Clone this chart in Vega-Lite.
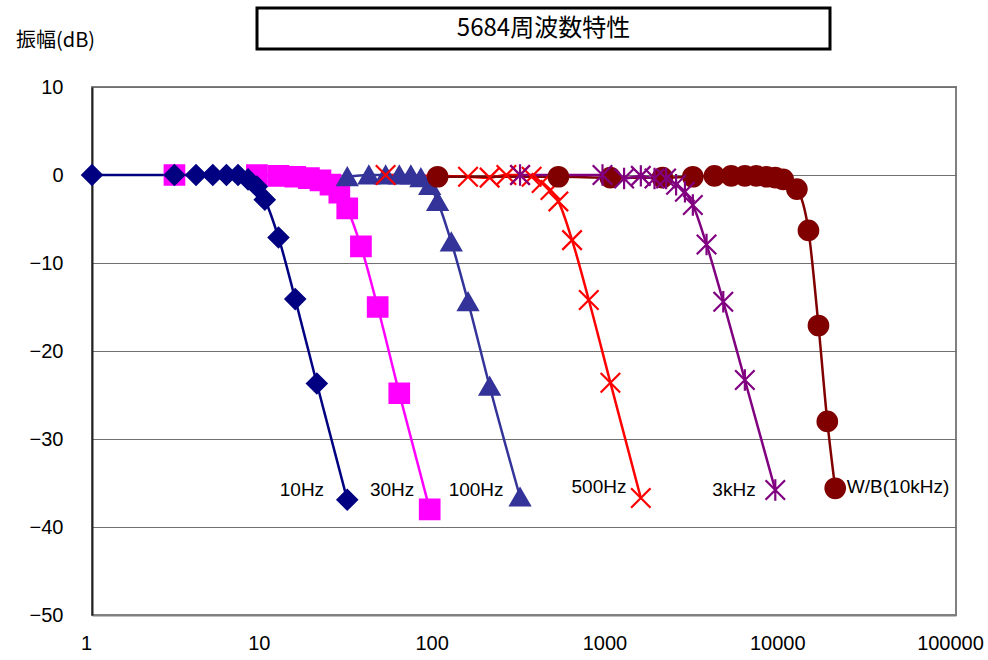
{
  "$schema": "https://vega.github.io/schema/vega-lite/v6.json",
  "background": "white",
  "padding": {"left": 14, "top": 6, "right": 5, "bottom": 5},
  "config": {"font": "Liberation Sans"},
  "datasets": {
    "pts": [
      {"s": "30Hz", "f": 3, "db": 0}, {"s": "30Hz", "f": 9, "db": 0}, {"s": "30Hz", "f": 12, "db": -0.1}, {"s": "30Hz", "f": 15, "db": -0.2}, {"s": "30Hz", "f": 18, "db": -0.35}, {"s": "30Hz", "f": 21, "db": -0.6}, {"s": "30Hz", "f": 24, "db": -1.1}, {"s": "30Hz", "f": 27, "db": -2.0}, {"s": "30Hz", "f": 30, "db": -3.8}, {"s": "30Hz", "f": 36, "db": -8.1}, {"s": "30Hz", "f": 45, "db": -15.0}, {"s": "30Hz", "f": 60, "db": -24.8}, {"s": "30Hz", "f": 90, "db": -38.0},
      {"s": "10Hz", "f": 1, "db": 0}, {"s": "10Hz", "f": 3, "db": 0}, {"s": "10Hz", "f": 4, "db": 0}, {"s": "10Hz", "f": 5, "db": 0}, {"s": "10Hz", "f": 6, "db": 0}, {"s": "10Hz", "f": 7, "db": 0}, {"s": "10Hz", "f": 8, "db": -0.5}, {"s": "10Hz", "f": 9, "db": -1.3}, {"s": "10Hz", "f": 10, "db": -2.8}, {"s": "10Hz", "f": 12, "db": -7.1}, {"s": "10Hz", "f": 15, "db": -14.1}, {"s": "10Hz", "f": 20, "db": -23.7}, {"s": "10Hz", "f": 30, "db": -36.9},
      {"s": "100Hz", "f": 30, "db": -0.2}, {"s": "100Hz", "f": 40, "db": 0}, {"s": "100Hz", "f": 50, "db": 0}, {"s": "100Hz", "f": 60, "db": 0}, {"s": "100Hz", "f": 70, "db": 0}, {"s": "100Hz", "f": 80, "db": -0.3}, {"s": "100Hz", "f": 90, "db": -1.2}, {"s": "100Hz", "f": 100, "db": -3.0}, {"s": "100Hz", "f": 120, "db": -7.6}, {"s": "100Hz", "f": 150, "db": -14.4}, {"s": "100Hz", "f": 200, "db": -24.0}, {"s": "100Hz", "f": 300, "db": -36.6},
      {"s": "500Hz", "f": 50, "db": 0}, {"s": "500Hz", "f": 150, "db": -0.2}, {"s": "500Hz", "f": 200, "db": -0.3}, {"s": "500Hz", "f": 250, "db": 0}, {"s": "500Hz", "f": 300, "db": 0}, {"s": "500Hz", "f": 350, "db": -0.2}, {"s": "500Hz", "f": 400, "db": -0.9}, {"s": "500Hz", "f": 450, "db": -1.7}, {"s": "500Hz", "f": 500, "db": -3.0}, {"s": "500Hz", "f": 600, "db": -7.4}, {"s": "500Hz", "f": 750, "db": -14.2}, {"s": "500Hz", "f": 1000, "db": -23.6}, {"s": "500Hz", "f": 1500, "db": -36.7},
      {"s": "WB", "f": 100, "db": -0.2}, {"s": "WB", "f": 500, "db": -0.2}, {"s": "WB", "f": 1000, "db": -0.3}, {"s": "WB", "f": 2000, "db": -0.3}, {"s": "WB", "f": 3000, "db": -0.2}, {"s": "WB", "f": 4000, "db": -0.1}, {"s": "WB", "f": 5000, "db": -0.1}, {"s": "WB", "f": 6000, "db": -0.1}, {"s": "WB", "f": 7000, "db": -0.1}, {"s": "WB", "f": 8000, "db": -0.2}, {"s": "WB", "f": 9000, "db": -0.3}, {"s": "WB", "f": 10000, "db": -0.5}, {"s": "WB", "f": 12000, "db": -1.6}, {"s": "WB", "f": 14000, "db": -6.3}, {"s": "WB", "f": 16000, "db": -17.1}, {"s": "WB", "f": 18000, "db": -28.0}, {"s": "WB", "f": 20000, "db": -35.6},
      {"s": "3kHz", "f": 300, "db": 0}, {"s": "3kHz", "f": 900, "db": 0}, {"s": "3kHz", "f": 1200, "db": -0.4}, {"s": "3kHz", "f": 1500, "db": -0.1}, {"s": "3kHz", "f": 1800, "db": -0.4}, {"s": "3kHz", "f": 2100, "db": -0.4}, {"s": "3kHz", "f": 2400, "db": -1.1}, {"s": "3kHz", "f": 2700, "db": -1.9}, {"s": "3kHz", "f": 3000, "db": -3.4}, {"s": "3kHz", "f": 3600, "db": -7.9}, {"s": "3kHz", "f": 4500, "db": -14.4}, {"s": "3kHz", "f": 6000, "db": -23.3}, {"s": "3kHz", "f": 9000, "db": -35.8}
    ],
    "labels": [
      {"t": "10Hz", "f": 16.4, "db": -35.8},
      {"t": "30Hz", "f": 54.5, "db": -35.8},
      {"t": "100Hz", "f": 167, "db": -35.8},
      {"t": "500Hz", "f": 859, "db": -35.4},
      {"t": "3kHz", "f": 5190, "db": -35.8},
      {"t": "W/B(10kHz)", "f": 46200, "db": -35.5}
    ],
    "title": [{"t": "5684周波数特性"}],
    "blank": [{"t": ""}]
  },
  "bounds": "flush",
  "spacing": 79,
  "vconcat": [
    {
      "bounds": "flush",
      "spacing": 0,
      "hconcat": [
        {
          "width": 165, "height": 41,
          "data": {"name": "blank"},
          "mark": {"type": "text"},
          "encoding": {"text": {"field": "t"}},
          "view": {"stroke": null}
        },
        {
          "width": 573, "height": 41,
          "data": {"name": "title"},
          "mark": {"type": "text", "font": "Noto Sans CJK JP", "fontSize": 24, "color": "black", "baseline": "middle", "align": "center"},
          "encoding": {"text": {"field": "t"}},
          "view": {"stroke": "black", "strokeWidth": 3}
        }
      ]
    },
    {
      "width": 864,
      "height": 528,
      "view": {"stroke": "#808080", "strokeWidth": 2},
      "encoding": {
        "x": {
          "field": "f", "type": "quantitative",
          "scale": {"type": "log", "domain": [1, 100000], "nice": false},
          "axis": {
            "title": null, "values": [1, 10, 100, 1000, 10000, 100000], "format": "d",
            "grid": false, "ticks": false, "labelFontSize": 20, "labelColor": "black",
            "labelPadding": 18, "labelOffset": -6, "labelFlush": false,
            "domainColor": "#808080", "domainWidth": 2
          }
        },
        "y": {
          "field": "db", "type": "quantitative",
          "scale": {"domain": [-50, 10], "nice": false, "zero": false},
          "axis": {
            "values": [-50, -40, -30, -20, -10, 0, 10],
            "grid": true, "gridColor": "#707070", "gridWidth": 1,
            "ticks": false, "labelFontSize": 20, "labelColor": "black", "labelPadding": 29,
            "domainColor": "#222222", "domainWidth": 2,
            "title": "振幅(dB)", "titleAngle": 0, "titleX": -37, "titleY": -47,
            "titleAlign": "center", "titleBaseline": "middle",
            "titleFont": "Noto Sans CJK JP", "titleFontSize": 20, "titleFontWeight": "normal", "titleColor": "black"
          }
        }
      },
      "layer": [
        {
          "data": {"name": "pts"},
          "mark": {"type": "line", "interpolate": "monotone", "strokeWidth": 2.5},
          "encoding": {
            "color": {
              "field": "s", "type": "nominal", "legend": null,
              "scale": {"domain": ["10Hz", "30Hz", "100Hz", "500Hz", "3kHz", "WB"], "range": ["#000080", "#FF00FF", "#333399", "#FF0000", "#800080", "#800000"]}
            },
            "order": {"field": "f", "type": "quantitative"}
          }
        },
        {
          "data": {"name": "pts"},
          "mark": {"type": "point", "opacity": 1, "strokeWidth": 2.2},
          "encoding": {
            "fill": {
              "field": "s", "type": "nominal", "legend": null,
              "scale": {"domain": ["10Hz", "30Hz", "100Hz", "500Hz", "3kHz", "WB"], "range": ["#000080", "#FF00FF", "#333399", "#FF0000", "#800080", "#800000"]}
            },
            "stroke": {
              "field": "s", "type": "nominal", "legend": null,
              "scale": {"domain": ["10Hz", "30Hz", "100Hz", "500Hz", "3kHz", "WB"], "range": ["#000080", "#FF00FF", "#333399", "#FF0000", "#800080", "#800000"]}
            },
            "shape": {
              "field": "s", "type": "nominal", "legend": null,
              "scale": {"domain": ["10Hz", "30Hz", "100Hz", "500Hz", "3kHz", "WB"], "range": ["diamond", "square", "triangle-up", "M-1,-1L1,1M-1,1L1,-1", "M-1,-1L1,1M-1,1L1,-1M0,-1.1L0,1.1", "circle"]}
            },
            "size": {
              "field": "s", "type": "nominal", "legend": null,
              "scale": {"domain": ["10Hz", "30Hz", "100Hz", "500Hz", "3kHz", "WB"], "range": [380, 380, 380, 360, 330, 330]}
            }
          }
        },
        {
          "data": {"name": "labels"},
          "mark": {"type": "text", "fontSize": 19, "color": "black", "align": "center", "baseline": "middle"},
          "encoding": {"text": {"field": "t"}}
        }
      ]
    }
  ]
}
